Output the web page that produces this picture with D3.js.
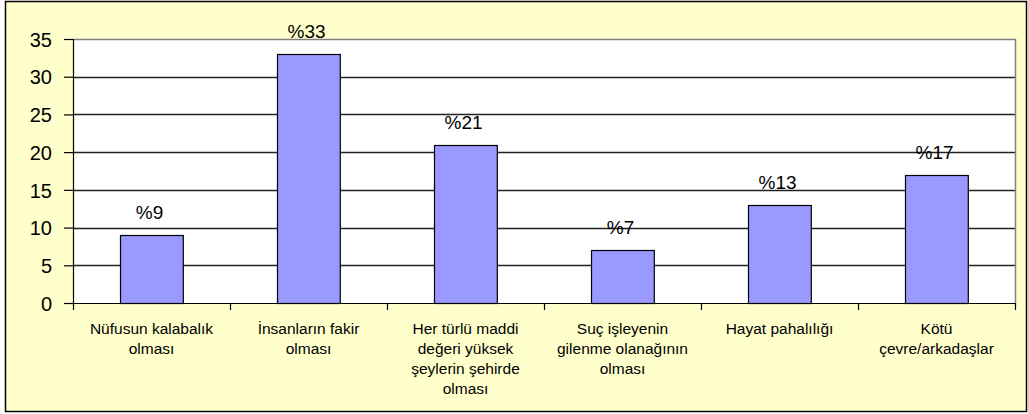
<!DOCTYPE html>
<html>
<head>
<meta charset="utf-8">
<script src="https://cdn.jsdelivr.net/npm/d3@7"></script>
<style>
  body { margin: 0; background: #fff; }
  svg text { font-family: "Liberation Sans", Arial, sans-serif; fill: #000; }
</style>
</head>
<body>
<svg width="1028" height="414"></svg>
<script>
// chart data
var categories = [
    ["Nüfusun kalabalık", "olması"],
    ["İnsanların fakir", "olması"],
    ["Her türlü maddi", "değeri yüksek", "şeylerin şehirde", "olması"],
    ["Suç işleyenin", "gilenme olanağının", "olması"],
    ["Hayat pahalılığı"],
    ["Kötü", "çevre/arkadaşlar"]
];
var values = [9, 33, 21, 7, 13, 17];
var valueLabels = ["%9", "%33", "%21", "%7", "%13", "%17"];
var yTicks = [0, 5, 10, 15, 20, 25, 30, 35];

var svg = d3.select("svg"),
    margin = {top: 39, right: 13, bottom: 111, left: 73},
    width = +svg.attr("width") - margin.left - margin.right,
    height = +svg.attr("height") - margin.top - margin.bottom;

// outer chart area
svg.append("rect")
    .attr("x", 5.5).attr("y", 1.5)
    .attr("width", 1021).attr("height", 410)
    .attr("fill", "#FFFFCC")
    .attr("stroke", "#000")
    .attr("stroke-width", 1.5);

var g = svg.append("g").attr("transform", "translate(" + margin.left + "," + margin.top + ")");

var x = d3.scaleBand()
    .domain(d3.range(categories.length))
    .range([0, width])
    .paddingInner(0.6)
    .paddingOuter(0.3);

var xb = d3.scaleBand()
    .domain(d3.range(categories.length))
    .range([0, width]);

var y = d3.scaleLinear()
    .domain([0, 35])
    .range([height, 0]);

// plot area
g.append("rect")
    .attr("width", width).attr("height", height)
    .attr("fill", "#fff");

// gridlines
g.selectAll(".grid")
    .data(yTicks.filter(function(d) { return d > 0 && d < 35; }))
    .enter().append("line")
    .attr("class", "grid")
    .attr("x1", 0).attr("x2", width)
    .attr("y1", function(d) { return Math.round(y(d)) + 0.5; })
    .attr("y2", function(d) { return Math.round(y(d)) + 0.5; })
    .attr("stroke", "#222")
    .attr("stroke-width", 1.3);

// plot border (top and right, grey)
g.append("path")
    .attr("d", "M0,0.5H" + (width + 0.5) + "V" + height)
    .attr("fill", "none")
    .attr("stroke", "#808080")
    .attr("stroke-width", 1.5);

// bars
g.selectAll(".bar")
    .data(values)
    .enter().append("rect")
    .attr("class", "bar")
    .attr("x", function(d, i) { return Math.round(x(i)) + 0.5; })
    .attr("y", function(d) { return Math.round(y(d)) + 0.5; })
    .attr("width", x.bandwidth())
    .attr("height", function(d) { return height - Math.round(y(d)); })
    .attr("fill", "#9999FF")
    .attr("stroke", "#000")
    .attr("stroke-width", 1.2);

// value labels
g.selectAll(".vlabel")
    .data(values)
    .enter().append("text")
    .attr("class", "vlabel")
    .attr("x", function(d, i) { return x(i) + x.bandwidth() / 2 - 2; })
    .attr("y", function(d) { return y(d) - 16; })
    .attr("text-anchor", "middle")
    .style("font-size", "19px")
    .text(function(d, i) { return valueLabels[i]; });

// y axis
var yAxis = g.append("g")
    .call(d3.axisLeft(y).tickValues(yTicks).tickSize(9).tickPadding(12));
yAxis.select(".domain").attr("stroke", "#000").attr("stroke-width", 1.2);
yAxis.selectAll(".tick line").attr("stroke", "#000").attr("stroke-width", 1.2);
yAxis.selectAll("text").style("font-size", "20px").attr("dy", "0.36em");

// x axis
g.append("line")
    .attr("x1", 0).attr("x2", width)
    .attr("y1", height + 0.5).attr("y2", height + 0.5)
    .attr("stroke", "#000").attr("stroke-width", 1.2);

g.selectAll(".xtick")
    .data(d3.range(categories.length + 1))
    .enter().append("line")
    .attr("class", "xtick")
    .attr("x1", function(d) { return Math.round(d * xb.bandwidth()) + 0.5; })
    .attr("x2", function(d) { return Math.round(d * xb.bandwidth()) + 0.5; })
    .attr("y1", height).attr("y2", height + 7)
    .attr("stroke", "#000").attr("stroke-width", 1.2);

var cat = g.selectAll(".cat")
    .data(categories)
    .enter().append("text")
    .attr("class", "cat")
    .attr("text-anchor", "middle")
    .attr("transform", function(d, i) { return "translate(" + (xb(i) + xb.bandwidth() / 2) + "," + (height + 31) + ")"; })
    .style("font-size", "15.5px");

cat.selectAll("tspan")
    .data(function(d) { return d; })
    .enter().append("tspan")
    .attr("x", 0)
    .attr("y", function(d, i) { return i * 20; })
    .text(function(d) { return d; });
</script>
</body>
</html>
